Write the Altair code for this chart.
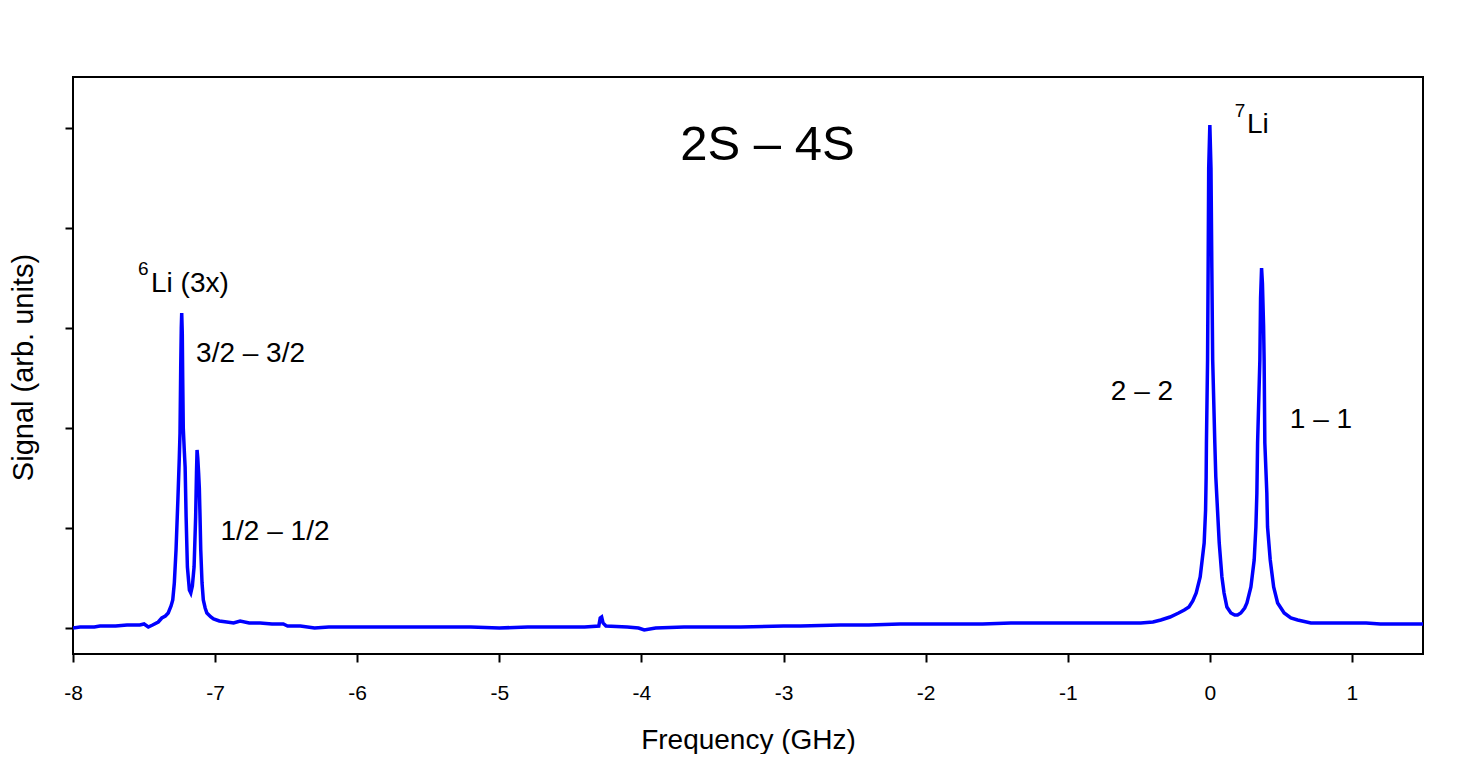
import altair as alt
import pandas as pd

# ---- spectrum (frequency in GHz, signal in arb. units) ----
freq = [
    -8.00, -7.95, -7.90, -7.85, -7.81, -7.75, -7.70, -7.62, -7.53, -7.50, -7.47, -7.44,
    -7.40, -7.375, -7.35, -7.33, -7.31, -7.298, -7.287, -7.275, -7.262, -7.252, -7.247,
    -7.242, -7.238, -7.235, -7.231, -7.228, -7.224, -7.216, -7.211, -7.204, -7.195, -7.181,
    -7.171, -7.160, -7.148, -7.137, -7.131, -7.127, -7.122, -7.116, -7.111, -7.106, -7.101,
    -7.092, -7.083, -7.070, -7.058, -7.030, -7.011, -6.970, -6.918, -6.870, -6.824, -6.760,
    -6.683, -6.600, -6.520, -6.490, -6.400, -6.300, -6.200, -6.000, -5.800, -5.500, -5.200,
    -5.000, -4.800, -4.600, -4.400, -4.300, -4.290, -4.280, -4.270, -4.250, -4.100, -4.020,
    -3.980, -3.900, -3.700, -3.580, -3.300, -3.000, -2.880, -2.600, -2.400, -2.180, -2.000,
    -1.800, -1.600, -1.400, -1.200, -1.000, -0.800, -0.600, -0.486, -0.400, -0.345, -0.280,
    -0.220, -0.180, -0.147, -0.120, -0.096, -0.068, -0.040, -0.030, -0.026, -0.024, -0.016,
    -0.012, -0.008, 0.000, 0.008, 0.014, 0.020, 0.035, 0.042, 0.054, 0.066, 0.085, 0.100,
    0.120, 0.148, 0.175, 0.195, 0.218, 0.245, 0.261, 0.289, 0.312, 0.324, 0.331, 0.336,
    0.352, 0.357, 0.364, 0.370, 0.378, 0.382, 0.387, 0.401, 0.406, 0.425, 0.449, 0.477,
    0.523, 0.570, 0.618, 0.711, 0.800, 0.900, 1.000, 1.100, 1.200, 1.300, 1.400, 1.500,
]
signal = [
    0.00, 0.01, 0.01, 0.01, 0.02, 0.02, 0.02, 0.03, 0.03, 0.04, 0.01, 0.03,
    0.06, 0.10, 0.12, 0.15, 0.22, 0.28, 0.45, 0.78, 1.28, 1.70, 1.95,
    2.60, 3.00, 3.15, 2.95, 2.50, 2.00, 1.75, 1.61, 1.11, 0.61, 0.38,
    0.35, 0.42, 0.61, 1.11, 1.55, 1.78, 1.70, 1.55, 1.40, 1.11, 0.78,
    0.45, 0.28, 0.20, 0.15, 0.11, 0.09, 0.07, 0.06, 0.05, 0.07, 0.05,
    0.05, 0.04, 0.04, 0.02, 0.02, 0.00, 0.01, 0.01, 0.01, 0.01, 0.01,
    0.00, 0.01, 0.01, 0.01, 0.02, 0.10, 0.11, 0.05, 0.02, 0.01, 0.00,
    -0.02, 0.00, 0.01, 0.01, 0.01, 0.02, 0.02, 0.03, 0.03, 0.04, 0.04,
    0.04, 0.04, 0.05, 0.05, 0.05, 0.05, 0.05, 0.05, 0.06, 0.08, 0.11,
    0.15, 0.18, 0.21, 0.27, 0.35, 0.51, 0.85, 1.18, 1.51, 1.85, 2.68,
    3.60, 4.60, 5.03, 4.60, 3.60, 2.68, 1.85, 1.51, 1.18, 0.85, 0.51, 0.35,
    0.21, 0.15, 0.13, 0.13, 0.15, 0.20, 0.25, 0.41, 0.68, 1.01, 1.35, 1.85,
    2.68, 3.30, 3.60, 3.45, 3.03, 2.68, 1.85, 1.35, 1.01, 0.68, 0.41, 0.25,
    0.15, 0.10, 0.08, 0.05, 0.05, 0.05, 0.05, 0.05, 0.04, 0.04, 0.04, 0.04,
]

# ---- annotations (data coordinates) ----
ann_text = ["Li (3x)", "3/2 \u2013 3/2", "1/2 \u2013 1/2", "2 \u2013 2", "1 \u2013 1", "Li"]
ann_x = [-7.451, -7.134, -6.962, -0.697, 0.563, 0.261]
ann_y = [3.36, 2.66, 0.88, 2.28, 2.00, 4.95]

sup_text = ["6", "7"]
sup_x = [-7.542, 0.176]
sup_y = [3.53, 5.11]

title_text = ["2S \u2013 4S"]
title_x = [-3.113]
title_y = [4.68]

x_ticks = [-8, -7, -6, -5, -4, -3, -2, -1, 0, 1]
y_ticks = [0, 1, 2, 3, 4, 5]

FONT = "Liberation Sans"

spec_df = pd.DataFrame({"freq": freq, "signal": signal})
ann_df = pd.DataFrame({"t": ann_text, "x": ann_x, "y": ann_y})
sup_df = pd.DataFrame({"t": sup_text, "x": sup_x, "y": sup_y})
ttl_df = pd.DataFrame({"t": title_text, "x": title_x, "y": title_y})

xscale = alt.Scale(domain=[-8, 1.5], nice=False, zero=False)
yscale = alt.Scale(domain=[-0.26, 5.51], nice=False, zero=False)

xaxis = alt.Axis(
    values=x_ticks, tickSize=8, tickWidth=2, tickColor="black", domain=False, grid=False,
    labelFont=FONT, labelFontSize=21, labelColor="black", labelPadding=20,
    labelExpr="datum.value + ''", labelFlush=False,
    title="Frequency (GHz)", titleFont=FONT, titleFontSize=28, titleFontWeight="normal",
    titleColor="black", titleBaseline="alphabetic", titleY=94,
)
yaxis = alt.Axis(
    values=y_ticks, tickSize=8, tickWidth=2, tickColor="black", domain=False, grid=False,
    labels=False,
    title="Signal (arb. units)", titleFont=FONT, titleFontSize=29, titleFontWeight="normal",
    titleColor="black", titleBaseline="alphabetic", titleAlign="center", titleX=-41, titleY=290,
)

line = alt.Chart(spec_df).mark_line(color="#0000ff", strokeWidth=3.5, clip=True).encode(
    x=alt.X("freq:Q", scale=xscale, axis=xaxis),
    y=alt.Y("signal:Q", scale=yscale, axis=yaxis),
)

ann = alt.Chart(ann_df).mark_text(
    font=FONT, fontSize=28, align="left", baseline="alphabetic", color="black"
).encode(x=alt.X("x:Q", scale=xscale), y=alt.Y("y:Q", scale=yscale), text="t:N")

sup = alt.Chart(sup_df).mark_text(
    font=FONT, fontSize=19, align="left", baseline="alphabetic", color="black"
).encode(x=alt.X("x:Q", scale=xscale), y=alt.Y("y:Q", scale=yscale), text="t:N")

ttl = alt.Chart(ttl_df).mark_text(
    font=FONT, fontSize=49, align="center", baseline="alphabetic", color="black"
).encode(x=alt.X("x:Q", scale=xscale), y=alt.Y("y:Q", scale=yscale), text="t:N")

chart = alt.layer(line, ann, sup, ttl).properties(
    width=1350, height=577,
    autosize=alt.AutoSizeParams(type="none"),
    padding={"left": 65, "top": 69, "right": 32, "bottom": 100},
    background="white",
).configure_view(stroke="black", strokeWidth=2).configure_axis(
    labelFontSize=21, labelFont=FONT, titleFont=FONT
)

chart.save("out.html", embed_options={"renderer": "svg", "actions": False})
